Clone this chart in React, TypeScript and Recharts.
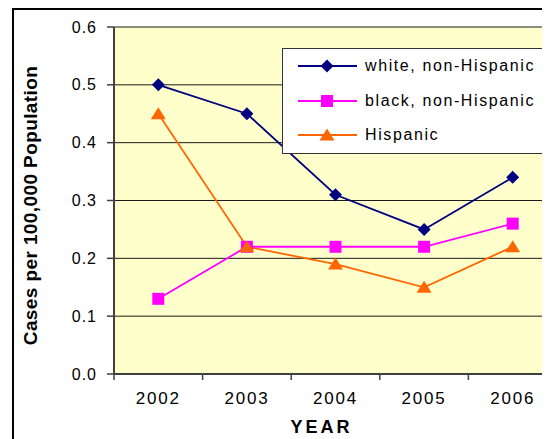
import React from 'react';
import {
  LineChart,
  Line,
  XAxis,
  YAxis,
  CartesianGrid,
  Legend,
  Label,
} from 'recharts';

// Reported cases per 100,000 population, by year and group
const YEARS = [2002, 2003, 2004, 2005, 2006];
const WHITE_NON_HISPANIC = [0.5, 0.45, 0.31, 0.25, 0.34];
const BLACK_NON_HISPANIC = [0.13, 0.22, 0.22, 0.22, 0.26];
const HISPANIC = [0.45, 0.22, 0.19, 0.15, 0.22];

const Y_TICKS = [0, 0.1, 0.2, 0.3, 0.4, 0.5, 0.6];
// category band edges (tick marks sit between the years)
const BAND_EDGES = [2001.5, 2002.5, 2003.5, 2004.5, 2005.5, 2006.5];

const SERIES_NAMES = ['white, non-Hispanic', 'black, non-Hispanic', 'Hispanic'];

const data = YEARS.map((year, i) => ({
  year,
  white: WHITE_NON_HISPANIC[i],
  black: BLACK_NON_HISPANIC[i],
  hispanic: HISPANIC[i],
}));

const FONT = 'Arial, "Liberation Sans", sans-serif';
const NAVY = '#000080';
const MAGENTA = '#FF00FF';
const ORANGE = '#FF6600';
const AXIS_GRAY = '#404040';

type Shape = 'diamond' | 'square' | 'triangle';

const markerPath = (shape: Shape, cx: number, cy: number) => {
  if (shape === 'diamond') {
    return `M${cx},${cy - 6.5}L${cx + 6.5},${cy}L${cx},${cy + 6.5}L${cx - 6.5},${cy}Z`;
  }
  if (shape === 'square') {
    return `M${cx - 6},${cy - 6}h12v12h-12Z`;
  }
  return `M${cx},${cy - 6.5}L${cx + 7.5},${cy + 5.5}L${cx - 7.5},${cy + 5.5}Z`;
};

const makeDot = (shape: Shape, color: string) => (props: any) => {
  const { cx, cy, index } = props;
  if (cx == null || cy == null) return <g key={index} />;
  return <path key={index} d={markerPath(shape, cx, cy)} fill={color} stroke="none" />;
};

const SERIES = [
  { key: 'white', name: SERIES_NAMES[0], color: NAVY, shape: 'diamond' as Shape },
  { key: 'black', name: SERIES_NAMES[1], color: MAGENTA, shape: 'square' as Shape },
  { key: 'hispanic', name: SERIES_NAMES[2], color: ORANGE, shape: 'triangle' as Shape },
];

const YTick = (props: any) => {
  const { x, y, payload } = props;
  return (
    <text
      x={x}
      y={y}
      textAnchor="end"
      dominantBaseline="central"
      fontFamily={FONT}
      fontSize={16}
      letterSpacing={1}
      fill="#000"
    >
      {Number(payload.value).toFixed(1)}
    </text>
  );
};

const XTick = (props: any) => {
  const { x, y, payload } = props;
  return (
    <text
      x={x}
      y={y + 18}
      textAnchor="middle"
      dominantBaseline="central"
      fontFamily={FONT}
      fontSize={17}
      letterSpacing={1.8}
      fill="#000"
    >
      {payload.value}
    </text>
  );
};

const seriesIndex = (key: string) => SERIES.findIndex((d) => d.key === key);

const LegendBox = (props: any) => {
  const payload: any[] = [...(props.payload || [])].sort(
    (a, b) => seriesIndex(a.dataKey) - seriesIndex(b.dataKey)
  );
  return (
    <div
      style={{
        width: 264,
        height: 104,
        border: '1px solid #333',
        background: '#fff',
        boxSizing: 'content-box',
      }}
    >
      {payload.map((entry: any) => {
        const s = SERIES[seriesIndex(entry.dataKey)] || SERIES[0];
        return (
          <div key={s.key} style={{ position: 'relative', height: 34.5 }}>
            <svg width={80} height={20} style={{ position: 'absolute', left: 0, top: 7 }}>
              <line x1={15} y1={10} x2={74} y2={10} stroke={s.color} strokeWidth={2} />
              <path d={markerPath(s.shape, 44, 10)} fill={s.color} />
            </svg>
            <span
              style={{
                position: 'absolute',
                left: 82,
                top: 7,
                fontFamily: FONT,
                fontSize: 16,
                letterSpacing: 1.6,
                lineHeight: '20px',
                color: '#000',
                whiteSpace: 'nowrap',
              }}
            >
              {entry.value}
            </span>
          </div>
        );
      })}
    </div>
  );
};

export default function App() {
  return (
    <div style={{ position: 'relative', width: 542, height: 431, overflow: 'hidden', background: '#fff' }}>
      <div
        style={{
          position: 'absolute',
          left: 4,
          top: 0,
          width: 620,
          height: 520,
          border: '2px solid #000',
          boxSizing: 'border-box',
        }}
      />
      <div style={{ position: 'absolute', left: 0, top: 0 }}>
        <LineChart
          width={600}
          height={431}
          data={data}
          margin={{ top: 19, right: 51, bottom: 0, left: 0 }}
        >
          <CartesianGrid
            horizontal
            vertical={false}
            stroke="#1a1a1a"
            strokeWidth={1}
            fill="#FFFFCC"
            fillOpacity={1}
          />
          <XAxis
            xAxisId="edges"
            dataKey="year"
            type="number"
            domain={[2001.5, 2006.5]}
            ticks={BAND_EDGES}
            allowDecimals
            height={6}
            tickSize={6}
            tickFormatter={() => ''}
            axisLine={{ stroke: AXIS_GRAY, strokeWidth: 2 }}
            tickLine={{ stroke: AXIS_GRAY, strokeWidth: 1.5 }}
            interval={0}
          />
          <XAxis
            xAxisId="years"
            dataKey="year"
            type="number"
            domain={[2001.5, 2006.5]}
            ticks={YEARS}
            height={59}
            tickSize={0}
            tickMargin={0}
            axisLine={false}
            tickLine={false}
            tick={<XTick />}
            interval={0}
          >
            <Label
              content={(p: any) => {
                const vb = p.viewBox || {};
                return (
                  <text
                    x={vb.x + vb.width / 2 - 14}
                    y={vb.y + 47}
                    textAnchor="middle"
                    dominantBaseline="central"
                    fontFamily={FONT}
                    fontWeight="bold"
                    fontSize={18}
                    letterSpacing={3}
                    fill="#000"
                  >
                    YEAR
                  </text>
                );
              }}
            />
          </XAxis>
          <YAxis
            width={106}
            domain={[0, 0.6]}
            ticks={Y_TICKS}
            tickSize={7}
            tickMargin={10}
            axisLine={{ stroke: AXIS_GRAY, strokeWidth: 2 }}
            tickLine={{ stroke: AXIS_GRAY, strokeWidth: 1.5 }}
            tick={<YTick />}
            interval={0}
          >
            <Label
              content={(p: any) => {
                const vb = p.viewBox || {};
                const cx = vb.x + 22;
                const cy = vb.y + vb.height / 2 + 5;
                return (
                  <text
                    x={cx}
                    y={cy}
                    transform={`rotate(-90, ${cx}, ${cy})`}
                    textAnchor="middle"
                    dominantBaseline="central"
                    fontFamily={FONT}
                    fontWeight="bold"
                    fontSize={19}
                    letterSpacing={0.4}
                    fill="#000"
                  >
                    Cases per 100,000 Population
                  </text>
                );
              }}
            />
          </YAxis>
          <Legend
            layout="vertical"
            align="center"
            verticalAlign="middle"
            content={<LegendBox />}
            wrapperStyle={{ position: 'absolute', left: 274, top: 40, width: 266, height: 106 }}
          />
          {SERIES.map((s) => (
            <Line
              key={s.key}
              xAxisId="years"
              type="linear"
              dataKey={s.key}
              name={s.name}
              stroke={s.color}
              strokeWidth={1.8}
              dot={makeDot(s.shape, s.color)}
              activeDot={false}
              isAnimationActive={false}
            />
          ))}
        </LineChart>
      </div>
    </div>
  );
}
